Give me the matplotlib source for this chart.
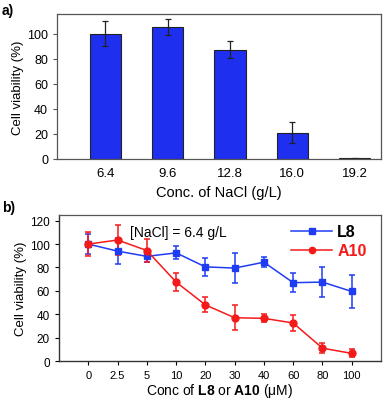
import numpy as np
import matplotlib
matplotlib.use('Agg')
import matplotlib.pyplot as plt
from matplotlib.lines import Line2D

plt.rcParams['font.family'] = ['Liberation Sans', 'DejaVu Sans']
plt.rcParams['mathtext.fontset'] = 'custom'
plt.rcParams['mathtext.rm'] = 'Liberation Sans'
plt.rcParams['mathtext.bf'] = 'Liberation Sans:bold'

# panel a data
nacl_labels = ['6.4', '9.6', '12.8', '16.0', '19.2']
nacl_viab = [100, 105.5, 87.5, 21, 0.5]
nacl_err = [10, 6.5, 6.5, 8.5, 0.5]

# panel b data
conc_labels = ['0', '2.5', '5', '10', '20', '30', '40', '60', '80', '100']
l8_viab = [100, 94, 89.5, 92.5, 80.5, 79.5, 84.5, 67, 67.5, 59.5]
l8_err = [8.5, 11, 4.5, 5.5, 7.5, 12.5, 4.5, 8, 13, 14]
a10_viab = [100, 103.5, 94.5, 67.5, 48, 37, 36.5, 32.5, 11, 6.5]
a10_err = [10.5, 12.5, 9.5, 8, 6.5, 10.5, 3.5, 6.5, 4.5, 3.5]

blue = '#1f3cf5'
red = '#f51a1a'

fig = plt.figure(figsize=(3.86, 4.02), dpi=100)

spine_col = '#555555'

# a) bar chart
ax1 = fig.add_axes([0.148, 0.602, 0.839, 0.361])
xa = np.arange(len(nacl_labels))
ax1.bar(xa, nacl_viab, width=0.5, color='#1f2ff0', edgecolor='#222222', linewidth=0.8,
        yerr=nacl_err, error_kw=dict(ecolor='#222222', elinewidth=0.9, capsize=2, capthick=0.9))
ax1.set_xlim(-0.77, 4.42)
ax1.set_ylim(0, 116)
ax1.set_yticks([0, 20, 40, 60, 80, 100])
ax1.set_xticks(xa)
ax1.set_xticklabels(nacl_labels)
ax1.tick_params(axis='x', length=0, labelsize=9.5, pad=6)
ax1.tick_params(axis='y', length=3, labelsize=9, width=0.8, color=spine_col)
ax1.set_xlabel('Conc. of NaCl (g/L)', fontsize=10.5, labelpad=4)
ax1.set_ylabel('Cell viability (%)', fontsize=9.5, labelpad=2)
for s in ax1.spines.values():
    s.set_color(spine_col)
    s.set_linewidth(0.9)
fig.text(0.005, 0.99, 'a)', fontsize=10, fontweight='bold', va='top', ha='left')

# b) line chart
ax2 = fig.add_axes([0.153, 0.0995, 0.834, 0.3635])
xb = np.arange(len(conc_labels))
ax2.errorbar(xb, l8_viab, yerr=l8_err, color=blue, marker='s', markersize=4.5,
             linewidth=1.1, elinewidth=1.1, capsize=2.5, capthick=1.1)
ax2.errorbar(xb, a10_viab, yerr=a10_err, color=red, marker='o', markersize=5,
             linewidth=1.1, elinewidth=1.1, capsize=2.5, capthick=1.1)
ax2.set_xlim(-1, 10)
ax2.set_ylim(0, 125)
ax2.set_yticks([0, 20, 40, 60, 80, 100, 120])
ax2.set_xticks(xb)
ax2.set_xticklabels(conc_labels)
ax2.tick_params(axis='x', length=3, labelsize=8, width=0.8)
ax2.tick_params(axis='y', length=3, labelsize=8.5, width=0.8)
ax2.set_xlabel(r'Conc of $\mathbf{L8}$ or $\mathbf{A10}$ ($\mathrm{\mu}$M)', fontsize=10, labelpad=1)
ax2.set_ylabel('Cell viability (%)', fontsize=9.5, labelpad=2)
for side in ['left', 'bottom']:
    ax2.spines[side].set_color('#333333')
    ax2.spines[side].set_linewidth(1.0)
for side in ['top', 'right']:
    ax2.spines[side].set_color(spine_col)
    ax2.spines[side].set_linewidth(0.9)
ax2.text(0.37, 0.93, '[NaCl] = 6.4 g/L', transform=ax2.transAxes, fontsize=10, va='top', ha='center')
handles = [Line2D([], [], color=blue, marker='s', markersize=4, linewidth=1.1),
           Line2D([], [], color=red, marker='o', markersize=4.5, linewidth=1.1)]
leg = ax2.legend(handles, ['L8', 'A10'], loc='upper right', frameon=False, fontsize=11.5,
                 handlelength=2.6, borderaxespad=0.2, labelspacing=0.25, handletextpad=0.3,
                 bbox_to_anchor=(0.985, 1.0))
for txt, col in zip(leg.get_texts(), ['black', red]):
    txt.set_fontweight('bold')
    txt.set_color(col)
fig.text(0.005, 0.5, 'b)', fontsize=10, fontweight='bold', va='top', ha='left')

fig.savefig('out.png', dpi=100)
